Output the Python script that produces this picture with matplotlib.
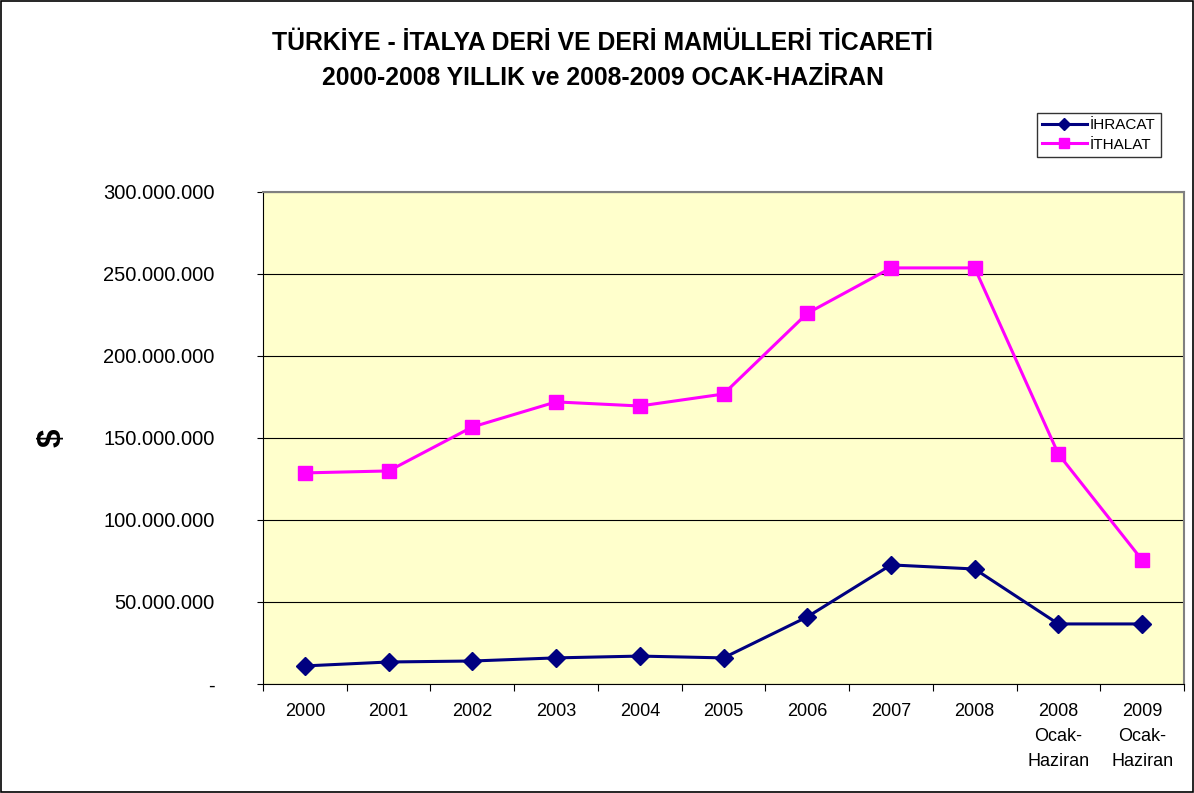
import matplotlib.pyplot as plt
from matplotlib.ticker import FuncFormatter

plt.rcParams['font.family'] = ['Liberation Sans', 'DejaVu Sans']

labels = ["2000", "2001", "2002", "2003", "2004", "2005", "2006", "2007", "2008",
          "2008\nOcak-\nHaziran", "2009\nOcak-\nHaziran"]
ihracat = [11.0e6, 13.4e6, 14.0e6, 15.9e6, 17.0e6, 15.9e6, 40.9e6, 72.6e6, 70.1e6, 36.6e6, 36.6e6]
ithalat = [128.7e6, 129.9e6, 156.7e6, 172.0e6, 169.5e6, 176.8e6, 226.0e6, 253.7e6, 253.7e6, 140.2e6, 75.6e6]

fig = plt.figure(figsize=(11.94, 7.93), dpi=100)
ax = fig.add_axes([0.2203, 0.1375, 0.7713, 0.6204])
ax.set_facecolor("#FFFFCC")

x = range(len(labels))
ax.plot(x, ihracat, color="#000080", lw=2.2, marker="D", ms=9, label="İHRACAT")
ax.plot(x, ithalat, color="#FF00FF", lw=2.2, marker="s", ms=10, label="İTHALAT")

ax.set_xlim(-0.5, len(labels) - 0.5)
ax.set_ylim(0, 300e6)
ax.set_yticks(range(0, 300000001, 50000000))
ax.yaxis.set_major_formatter(FuncFormatter(
    lambda v, p: "-" if v == 0 else f"{int(v):,}".replace(",", ".")))
ax.yaxis.grid(True, color="black", lw=0.8)
ax.set_axisbelow(True)

ax.set_xticks([i - 0.5 for i in range(len(labels) + 1)])
ax.set_xticklabels([])
ax.set_xticks(list(x), minor=True)
ax.set_xticklabels(labels, minor=True, fontsize=13, linespacing=1.6)
ax.tick_params(axis="x", which="minor", length=0, pad=14)
ax.tick_params(axis="x", which="major", length=5, color="black")
ax.tick_params(axis="y", length=4, labelsize=14.5, pad=31)

for s in ["top", "right"]:
    ax.spines[s].set_color("#808080")
    ax.spines[s].set_linewidth(1.5)
for s in ["left", "bottom"]:
    ax.spines[s].set_color("black")

ax.set_ylabel("$", fontsize=24, fontweight="bold", rotation=90)
ax.yaxis.set_label_coords(-0.212, 0.5)

fig.text(0.505, 0.9236,
         "TÜRKİYE - İTALYA DERİ VE DERİ MAMÜLLERİ TİCARETİ\n2000-2008 YILLIK ve 2008-2009 OCAK-HAZİRAN",
         fontsize=17.8, fontweight="bold", ha="center", va="center", linespacing=1.6)

leg = fig.legend(loc="upper left", bbox_to_anchor=(0.8685, 0.8575), borderaxespad=0,
                 fontsize=11, frameon=True, fancybox=False, edgecolor="black",
                 handlelength=2.9, borderpad=0.35, labelspacing=0.35, handletextpad=0.2,
                 markerscale=0.7)
leg.get_frame().set_linewidth(1)

fig.patches.append(plt.Rectangle((0.001, 0.001), 0.998, 0.998, transform=fig.transFigure,
                                 fill=False, edgecolor="black", lw=1.2))

fig.savefig("out.png", dpi=100)
